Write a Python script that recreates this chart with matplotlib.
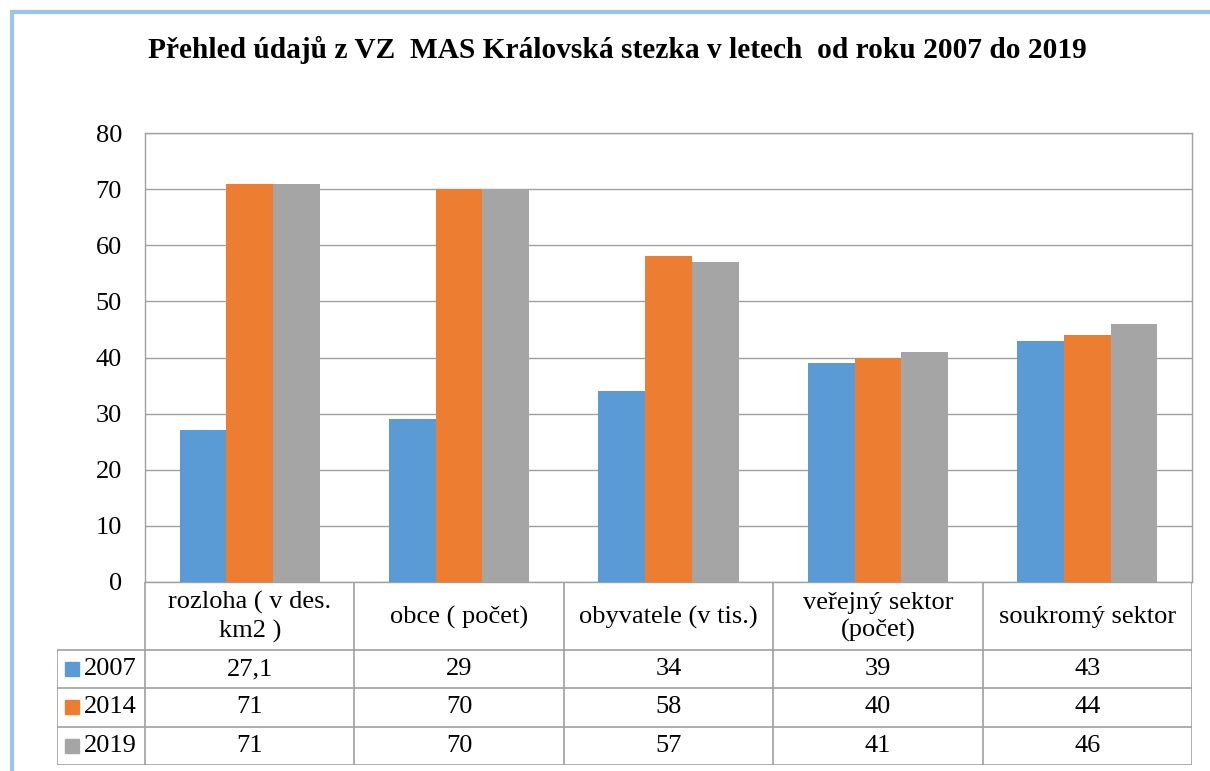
import numpy as np
import matplotlib.pyplot as plt
from matplotlib.patches import Rectangle

categories = ["rozloha ( v des.\nkm2 )", "obce ( počet)", "obyvatele (v tis.)",
              "veřejný sektor\n(počet)", "soukromý sektor"]
years = ["2007", "2014", "2019"]
v2007 = [27.1, 29, 34, 39, 43]
v2014 = [71, 70, 58, 40, 44]
v2019 = [71, 70, 57, 41, 46]
table_text = [["27,1", "29", "34", "39", "43"],
              ["71", "70", "58", "40", "44"],
              ["71", "70", "57", "41", "46"]]
colors = ["#5b9bd5", "#ed7d31", "#a5a5a5"]

plt.rcParams['font.family'] = ['Liberation Serif', 'DejaVu Serif']

W, H = 1210, 771
fig = plt.figure(figsize=(W / 100, H / 100), dpi=100)

# plot area in pixels
L, R, T, B = 145, 1192, 133, 582
ax = fig.add_axes([L / W, 1 - B / H, (R - L) / W, (B - T) / H])

x = np.arange(len(categories)) + 0.5
bw = 0.223
for i, vals in enumerate([v2007, v2014, v2019]):
    ax.bar(x + (i - 1) * bw, vals, width=bw, color=colors[i], zorder=3)

ax.set_xlim(0, 5)
ax.set_ylim(0, 80)
ax.set_yticks(range(0, 81, 10))
ax.set_xticks([])
ax.yaxis.grid(True, color="#a0a0a0", linewidth=1)
ax.tick_params(axis='y', length=0, labelsize=19, pad=16.5)
for s in ['left', 'right', 'top', 'bottom']:
    ax.spines[s].set_color("#a0a0a0")
    ax.spines[s].set_linewidth(1)

# data table
TL, TB = 57, 765
HDR = 650
tax = fig.add_axes([TL / W, 1 - TB / H, (R - TL) / W, (TB - B) / H])
unit = (R - L) / 5
tax.set_xlim(-(L - TL) / unit, 5)
tax.set_ylim(TB, B)
tax.axis('off')
lc = "#a0a0a0"
row_h = (TB - HDR) / 3
# horizontal lines
tax.plot([0, 5], [B, B], color=lc, lw=1.2)
for r in range(4):
    y = HDR + r * row_h
    tax.plot([-(L - TL) / unit, 5], [y, y], color=lc, lw=1.2)
# vertical lines
for c in range(6):
    tax.plot([c, c], [B, TB], color=lc, lw=1.2)
tax.plot([-(L - TL) / unit] * 2, [HDR, TB], color=lc, lw=1.2)

for c, cat in enumerate(categories):
    tax.text(c + 0.5, (B + HDR) / 2 + 1, cat, ha='center', va='center',
             fontsize=19, linespacing=1.3)
for r in range(3):
    yc = HDR + (r + 0.5) * row_h
    for c in range(5):
        tax.text(c + 0.5, yc, table_text[r][c], ha='center', va='center', fontsize=19)
    sq = 14 / unit
    tax.add_patch(Rectangle((-(L - 65) / unit, yc - 7), sq, 14, color=colors[r]))
    tax.text(-(L - 84) / unit, yc, years[r], ha='left', va='center', fontsize=19)

fig.text(617 / W, 1 - 50 / H, "Přehled údajů z VZ  MAS Královská stezka v letech  od roku 2007 do 2019",
         ha='center', va='center', fontsize=21.2, fontweight='bold')

# outer light blue frame
fig.add_artist(plt.Line2D([12 / W, 12 / W], [0, 1 - 12 / H], color="#9dc3e6", lw=3))
fig.add_artist(plt.Line2D([12 / W, 1], [1 - 12 / H, 1 - 12 / H], color="#9dc3e6", lw=3))

fig.savefig("out.png", dpi=100)
